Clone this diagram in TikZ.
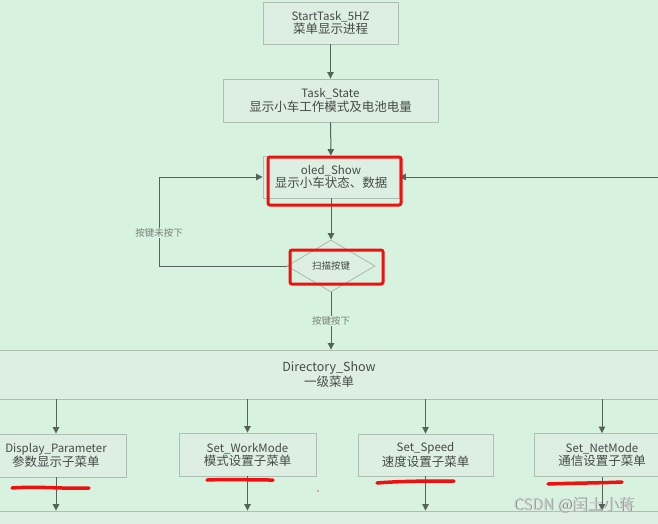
\documentclass[tikz,border=0pt]{standalone}
\usepackage{fontspec}
\setmainfont{Noto Sans CJK SC}
\usetikzlibrary{arrows.meta,shapes.geometric,calc}
\definecolor{bg}{HTML}{D7F2DF}
\definecolor{boxfill}{HTML}{DDEFE3}
\definecolor{boxline}{HTML}{AFBEB3}
\definecolor{arrc}{HTML}{55635A}
\definecolor{txt}{HTML}{454A45}
\definecolor{lbltxt}{HTML}{7A807A}
\definecolor{mark}{HTML}{F01010}
\tikzset{
  box/.style={rectangle, draw=boxline, fill=boxfill, line width=0.9pt, inner sep=0pt, align=center, text=txt},
  arr/.style={draw=arrc, line width=1pt, -{Triangle[width=6.5pt,length=6.5pt]}},
  lbl/.style={fill=bg, inner sep=1pt, text=lbltxt, font=\fontsize{9.5}{11}\selectfont},
  redbox/.style={draw=mark, line width=3pt, rounded corners=2pt},
  redline/.style={draw=mark, line width=3.5pt, line cap=round},
}
\newcommand{\lat}{\fontsize{11.5}{17}\selectfont}
\newcommand{\han}{\fontsize{12.5}{17}\selectfont}
\begin{document}
\begin{tikzpicture}[x=1pt,y=-1pt]
\useasboundingbox (0,0) rectangle (658,523);
\clip (0,0) rectangle (658,523);
\fill[bg] (0,0) rectangle (658,523);

\node[box, minimum width=135pt, minimum height=42pt] (b1) at (330.5,23) {\lat StartTask\_5HZ\\\han 菜单显示进程};
\node[box, minimum width=215pt, minimum height=43pt] (b2) at (330.5,100.5) {\lat Task\_State\\\han 显示小车工作模式及电池电量};
\node[box, minimum width=136pt, minimum height=42pt] (b3) at (331,177) {\lat oled\_Show\\\han 显示小车状态、数据};
\node[diamond, draw=boxline, fill=boxfill, line width=0.9pt, inner sep=0pt, minimum width=88pt, minimum height=52pt, text=txt, font=\fontsize{9.5}{11}\selectfont] (dia) at (331,266) {扫描按键};

\node[box, minimum width=678pt, minimum height=49pt] (dir) at (329,374.5) {\fontsize{12.5}{17}\selectfont Directory\_Show\\\han 一级菜单};

\node[box, minimum width=140pt, minimum height=43pt] (s1) at (56,455.5) {\lat Display\_Parameter\\\han 参数显示子菜单};
\node[box, minimum width=137pt, minimum height=43pt] (s2) at (247.5,454.5) {\lat Set\_WorkMode\\\han 模式设置子菜单};
\node[box, minimum width=135pt, minimum height=42pt] (s3) at (425.5,455) {\lat Set\_Speed\\\han 速度设置子菜单};
\node[box, minimum width=136pt, minimum height=43pt] (s4) at (602,455) {\lat Set\_NetMode\\\han 通信设置子菜单};

\node[box, minimum width=678pt, minimum height=48pt] (ex) at (329,535) {};

% connectors
\draw[arr] (b1) -- (b2);
\draw[arr] (b2) -- (b3);
\draw[arr] (b3) -- (dia);
\draw[arr] (dia.south) -- (dia.south |- dir.north);
\coordinate (lp) at (159,200);
\draw[arr] (dia.west) -| (lp |- b3.west) -- (b3.west);
\coordinate (rin) at (662,200);
\draw[arr] (rin |- b3.east) -- (b3.east);

\foreach \s in {s1,s2,s3,s4}{
  \draw[arr] (\s.north |- dir.south) -- (\s.north);
  \draw[arr] (\s.south) -- (\s.south |- ex.north);
}

\node[lbl] (l1) at (159,233) {按键未按下};
\node[lbl] (l2) at (331,321) {按键按下};

% red annotations
\draw[redbox] (268,157) rectangle (401,205);
\draw[redbox] (290,250) rectangle (383,284);
\draw[redline] (12,488) .. controls (40,486) and (60,489) .. (89,488);
\draw[redline] (207,480) .. controls (230,479) and (250,480) .. (273,480);
\draw[redline] (377,483) .. controls (400,481) and (430,481) .. (454,481);
\draw[redline] (548,484) .. controls (575,483) and (600,483) .. (622,482);
\fill[mark!70] (318,491) circle (0.9);

% watermark
\node[text=black!55, font=\fontsize{15.5}{18}\selectfont] (wms) at (574.6,505.6) {CSDN @闰土小蒋};
\node[text=white!80!black, font=\fontsize{15.5}{18}\selectfont] (wm) at (574,505) {CSDN @闰土小蒋};
\end{tikzpicture}
\end{document}
